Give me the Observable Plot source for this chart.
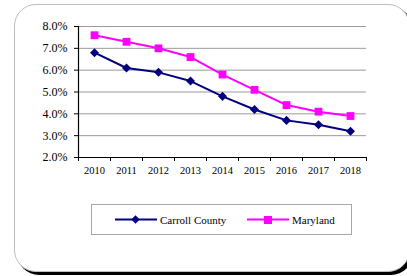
<!DOCTYPE html>
<html>
<head>
<meta charset="utf-8">
<script src="https://cdn.jsdelivr.net/npm/d3@7"></script>
<script src="https://cdn.jsdelivr.net/npm/@observablehq/plot@0.6"></script>
<style>
  html, body { margin: 0; padding: 0; background: #fff; }
  #wrap { position: relative; width: 407px; height: 276px; overflow: hidden; background: #fff; font-family: "Liberation Serif", "Times New Roman", serif; }
  #frame { position: absolute; left: 14px; top: 4px; width: 394px; height: 266px; border: 1px solid #bdbdbd; border-radius: 22px; box-shadow: 3px 3px 0 #000; background: #fff; }
  #chart { position: absolute; left: 0; top: 0; }
  #legend { position: absolute; left: 91px; top: 204px; width: 259px; height: 29px; border: 1px solid #a8a8a8; background: #fff; font-size: 11px; color: #000; }
  .item { position: absolute; top: 0; height: 29px; display: flex; align-items: center; white-space: nowrap; }
  .item svg { margin-right: 3px; }
</style>
</head>
<body>
<div id="wrap">
  <div id="frame"></div>
  <div id="chart"></div>
  <div id="legend"></div>
</div>
<script>
const years = [2010, 2011, 2012, 2013, 2014, 2015, 2016, 2017, 2018];
const carroll = [6.8, 6.1, 5.9, 5.5, 4.8, 4.2, 3.7, 3.5, 3.2];
const maryland = [7.6, 7.3, 7.0, 6.6, 5.8, 5.1, 4.4, 4.1, 3.9];
const yTicks = [0.02, 0.03, 0.04, 0.05, 0.06, 0.07, 0.08];
const seriesNames = ["Carroll County", "Maryland"];
const seriesColors = ["#000080", "#FF00FF"];

const carrollData = years.map((y, i) => ({year: y, value: carroll[i] / 100}));
const marylandData = years.map((y, i) => ({year: y, value: maryland[i] / 100}));
const boundaries = [...years.map(y => y - 0.5), years[years.length - 1] + 0.5];

const chart = Plot.plot({
  width: 407,
  height: 187,
  marginLeft: 78,
  marginRight: 41,
  marginTop: 26,
  marginBottom: 30,
  style: {fontFamily: "Liberation Serif, Times New Roman, serif", fontSize: "12px", background: "transparent", color: "#000"},
  x: {type: "linear", domain: [years[0] - 0.5, years[years.length - 1] + 0.5]},
  y: {domain: [0.02, 0.08]},
  marks: [
    Plot.gridY({ticks: yTicks.slice(1), stroke: "#9a9a9a", strokeOpacity: 1, strokeWidth: 1}),
    Plot.axisY({ticks: yTicks, tickFormat: d3.format(".1%"), tickSize: 4, tickPadding: 7, fontSize: 12, label: null}),
    Plot.axisX({ticks: boundaries, tickFormat: () => "", tickSize: 4, label: null}),
    Plot.axisX({ticks: years, tickFormat: d => String(d), tickSize: 0, tickPadding: 9, fontSize: 10.5, label: null}),
    Plot.ruleX([years[0] - 0.5], {stroke: "#000", strokeWidth: 1.2}),
    Plot.ruleY([0.02], {stroke: "#000", strokeWidth: 1.2}),
    Plot.line(carrollData, {x: "year", y: "value", stroke: seriesColors[0], strokeWidth: 2}),
    Plot.line(marylandData, {x: "year", y: "value", stroke: seriesColors[1], strokeWidth: 2}),
    Plot.dot(carrollData, {x: "year", y: "value", symbol: "square", rotate: 45, r: 3.6, fill: seriesColors[0], stroke: "none"}),
    Plot.dot(marylandData, {x: "year", y: "value", symbol: "square", r: 4.4, fill: seriesColors[1], stroke: "none"})
  ]
});
document.getElementById("chart").appendChild(chart);

// Legend
const legend = document.getElementById("legend");
const lefts = [23, 155];
seriesNames.forEach((name, i) => {
  const item = document.createElement("div");
  item.className = "item";
  item.style.left = lefts[i] + "px";
  const marker = i === 0
    ? `<rect x="17.5" y="4.5" width="6" height="6" transform="rotate(45 20.5 7.5)" fill="${seriesColors[i]}"/>`
    : `<rect x="17" y="4" width="8" height="8" fill="${seriesColors[i]}"/>`;
  item.innerHTML = `<svg width="42" height="15" viewBox="0 0 42 15"><line x1="0" x2="42" y1="7.5" y2="7.5" stroke="${seriesColors[i]}" stroke-width="2"/>${marker}</svg><span>${name}</span>`;
  legend.appendChild(item);
});
</script>
</body>
</html>
